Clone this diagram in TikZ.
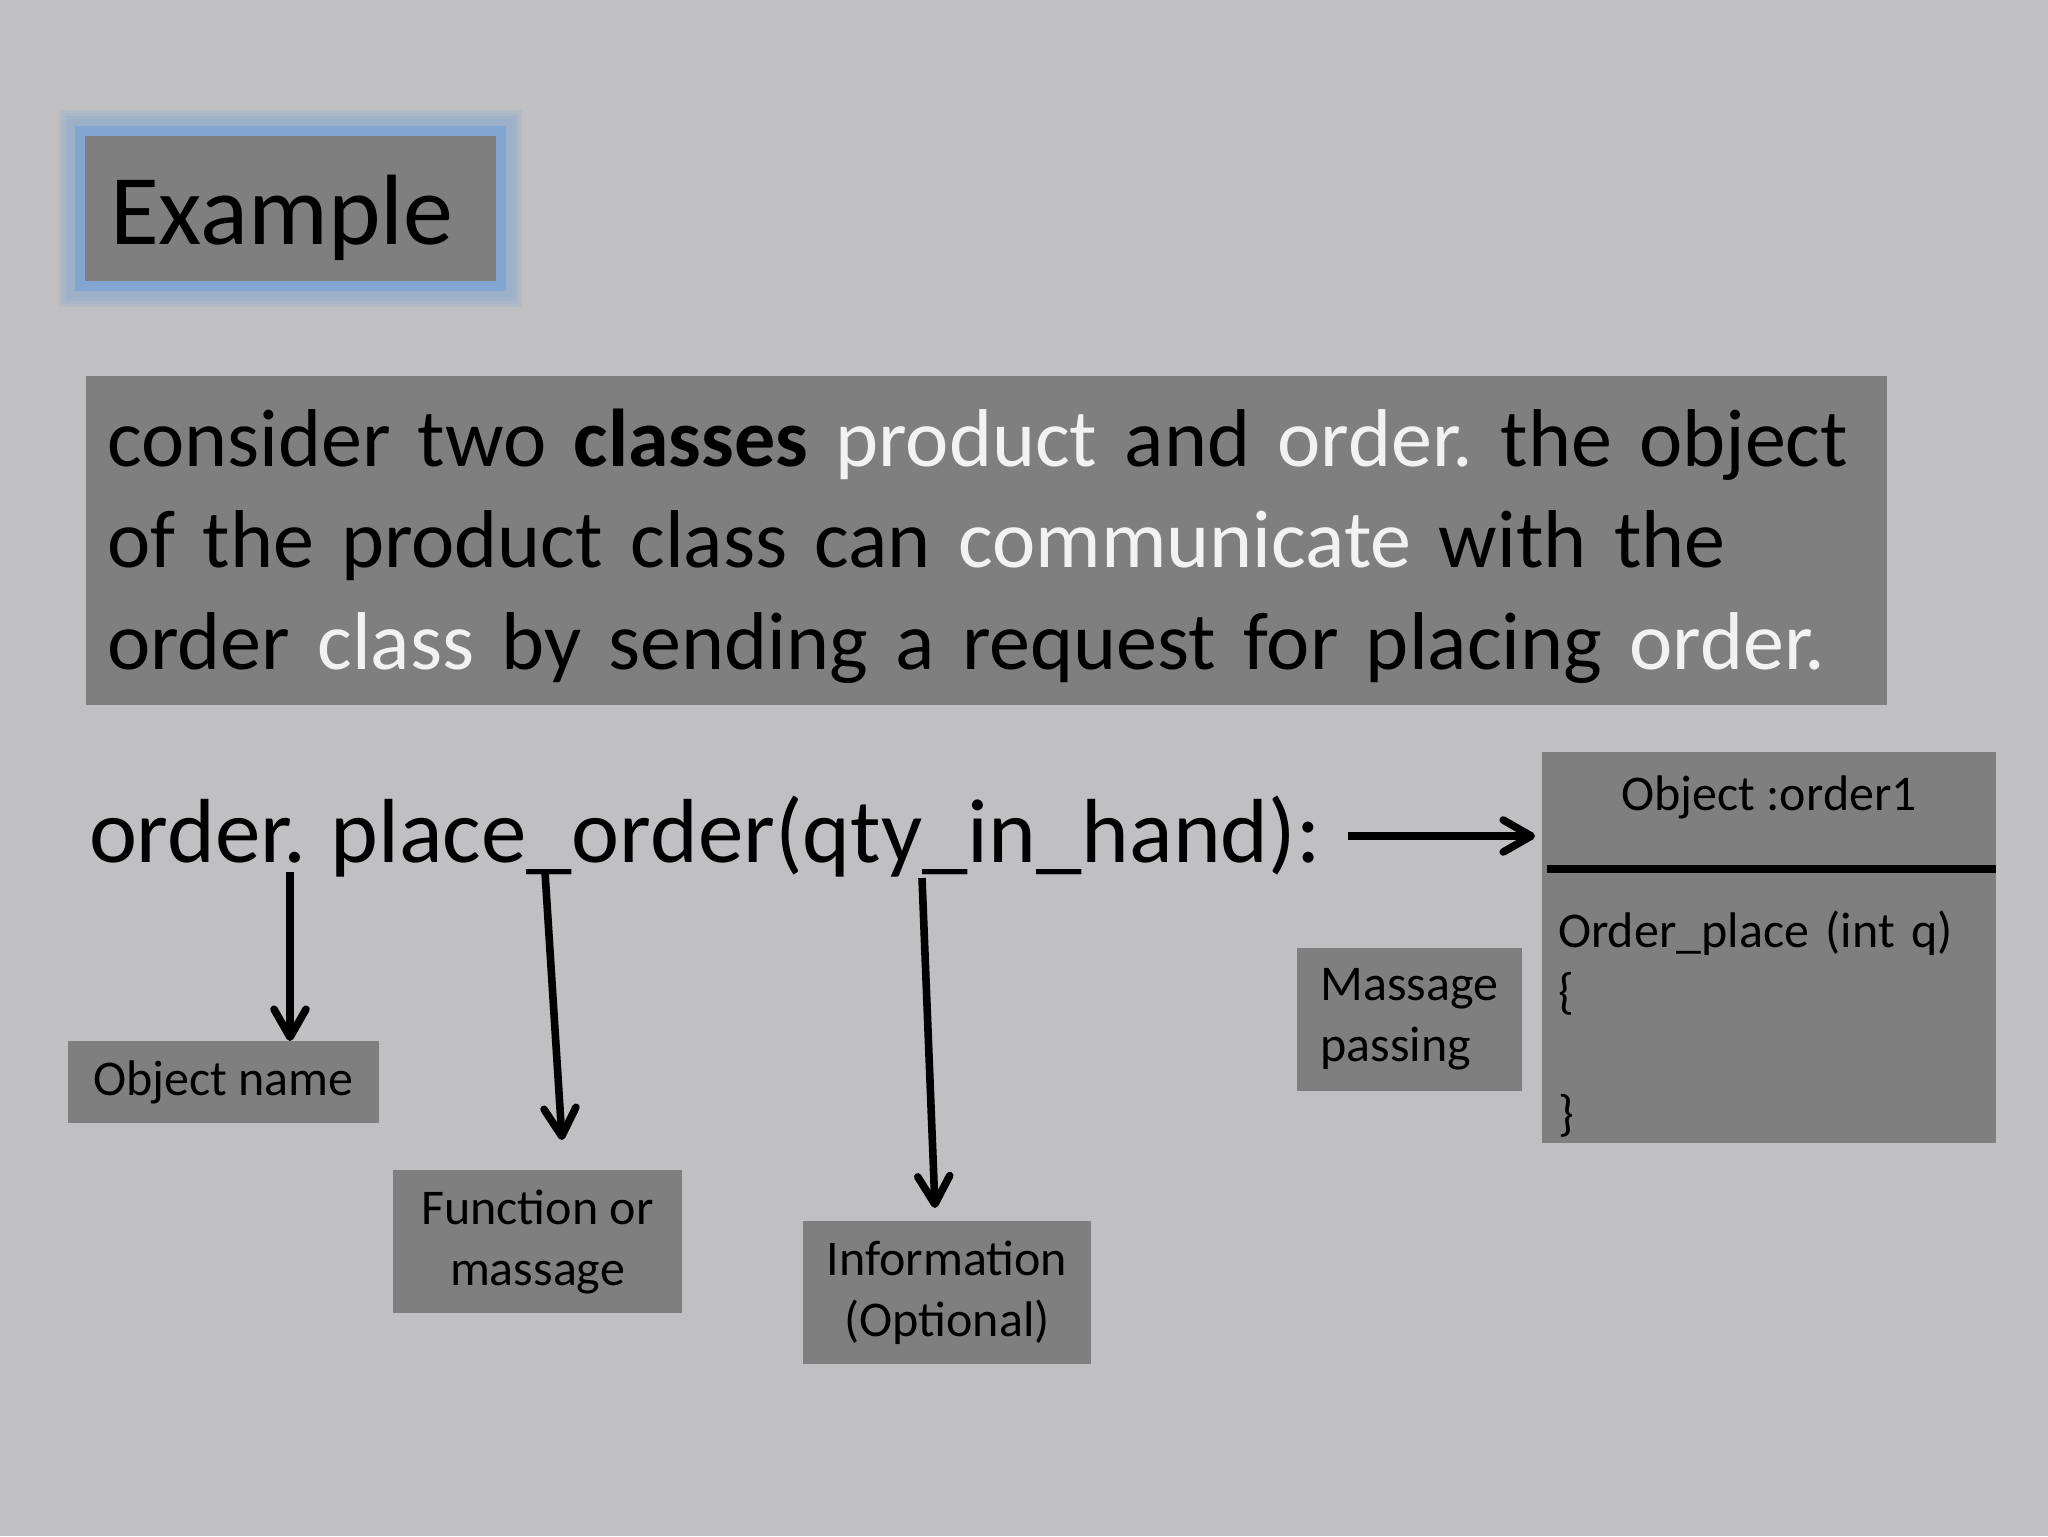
\documentclass[tikz,border=0pt]{standalone}
\usepackage{fontspec}
\setmainfont{Carlito}
\usetikzlibrary{arrows.meta}
\frenchspacing

\definecolor{slidebg}{HTML}{C0C0C2}
\definecolor{boxgray}{HTML}{7F7F7F}
\definecolor{glowblue}{HTML}{82A5D2}
\definecolor{hilite}{HTML}{F2F2F2}
\newcommand{\hl}[1]{\textcolor{hilite}{#1}}

\begin{document}
\begin{tikzpicture}[
    x=0.5pt, y=-0.5pt,
    every node/.style={inner sep=0pt, outer sep=0pt, text=black},
    titlebox/.style={rectangle, fill=boxgray, minimum width=205.5pt, minimum height=72.5pt},
    parabox/.style={rectangle, fill=boxgray, minimum width=900.5pt, minimum height=164.5pt},
    paratext/.style={text width=920pt, align=left, font=\fontsize{41}{50.75}\selectfont},
    tag/.style={rectangle, fill=boxgray, align=center, font=\fontsize{25}{30.5}\selectfont},
    arr/.style={line width=3.8pt, -{Straight Barb[length=14pt, width=16pt, round]}}
]

\useasboundingbox (0,0) rectangle (2048,1536);
\fill[slidebg] (0,0) rectangle (2048,1536);

% title with glow
\foreach \g in {14,11,8,5}
  \fill[glowblue, opacity=0.18] (73-\g,124-\g) rectangle (508+\g,293+\g);
\fill[glowblue] (75,126) rectangle (506,291);
\node[titlebox] (title) at (290.5,208.5) {};
\node[anchor=base west, font=\fontsize{50}{60}\selectfont] (titletext) at (110,244) {Example};

\node[parabox] (para) at (986.5,540.5) {};
\node[paratext, anchor=base west] (paratxt) at (107,466) {consider two \textbf{classes} \hl{product} and \hl{order.} the object\\
of the product class can \hl{communicate} with the\\
order \hl{class} by sending a request for placing \hl{order.}};

\node[anchor=base west, font=\fontsize{45.5}{54}\selectfont] (call) at (89,862) {order.\hspace{2pt} place\_order(qty\_in\_hand):};

% labels
\node[tag, minimum width=155.5pt, minimum height=41pt] (objname) at (223.5,1082) {Object name};
\node[tag, minimum width=144.5pt, minimum height=71.5pt] (func) at (537.5,1241.5) {Function or\\ massage};
\node[tag, minimum width=144pt, minimum height=71.5pt] (info) at (947,1292.5) {Information\\ (Optional)};
\node[tag, align=left, minimum width=112.5pt, minimum height=71.5pt] (msg) at (1409.5,1019.5) {Massage\\ passing};

% object
\node[tag, minimum width=227pt, minimum height=195.5pt] (obj) at (1769,947.5) {};
\node[anchor=base, font=\fontsize{25}{30.5}\selectfont] (objhead) at (1769,810) {Object :order1};
\draw[line width=4pt] (1547,869) -- (1996,869);
\node[anchor=base west, text width=200pt, align=left, font=\fontsize{25}{30.5}\selectfont] (objbody) at (1558,947) {Order\_place (int q)\\ \{\\ \mbox{}\\ \}};

% arrows
\coordinate (s1) at (290,872);
\coordinate (s2) at (545,872);
\coordinate (e2) at (562,1140);
\coordinate (s3) at (922,878);
\coordinate (e3) at (935,1208);
\coordinate (s4) at (1348,836);
\draw[arr] (s1) -- (s1 |- objname.north);
\draw[arr] (s2) -- (e2);
\draw[arr] (s3) -- (e3);
\draw[arr, shorten >=3.5pt] (s4) -- (s4 -| obj.west);

\end{tikzpicture}
\end{document}
